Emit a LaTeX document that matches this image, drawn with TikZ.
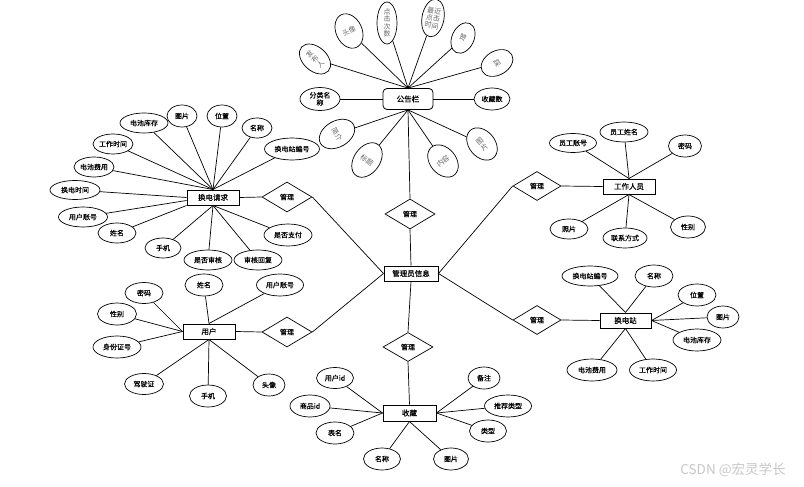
\documentclass[tikz,border=0pt]{standalone}
\usepackage{fontspec}
\newfontfamily\cjk{Noto Sans CJK SC}[FakeBold=0.35]
\newfontfamily\cjkl{Noto Sans CJK SC}
\usetikzlibrary{shapes.geometric}
\begin{document}
\begin{tikzpicture}[x=1pt,y=-1pt,
  attr/.style={ellipse,draw,line width=0.7pt,inner sep=0pt,font=\cjk\fontsize{7}{7.5}\selectfont,align=center},
  gattr/.style={attr,text=black!60,font=\cjkl\fontsize{7}{7.5}\selectfont},
  ent/.style={rectangle,draw,line width=1pt,inner sep=0pt,minimum width=52pt,minimum height=15pt,font=\cjk\fontsize{7.5}{8}\selectfont},
  rel/.style={diamond,draw,line width=0.7pt,inner sep=0pt,minimum width=50pt,minimum height=30pt,font=\cjk\fontsize{7}{8}\selectfont},
  link/.style={line width=0.7pt},
  sz/.style 2 args={minimum width=#1pt,minimum height=#2pt}
]
\useasboundingbox (0,0) rectangle (804,487);

% entities
\node[ent,rounded corners=4pt,sz={50}{21},line width=0.8pt] (gg) at (408,99) {公告栏};
\node[ent,minimum width=54pt] (adm) at (411,273.5) {管理员信息};
\node[ent] (hr) at (213,197.5) {换电请求};
\node[ent] (yh) at (209,331.5) {用户};
\node[ent] (gz) at (629,186.5) {工作人员};
\node[ent,minimum width=51pt] (hz) at (625.5,320.5) {换电站};
\node[ent,sz={53}{16}] (sc) at (409.5,413) {收藏};

% relations
\node[rel] (r1) at (410,214) {管理};
\node[rel] (r2) at (287,197) {管理};
\node[rel] (r3) at (287,332) {管理};
\node[rel,sz={48}{29}] (r4) at (537,186) {管理};
\node[rel,sz={48}{29}] (r5) at (537,320) {管理};
\node[rel,sz={50}{29}] (r6) at (408,347) {管理};

\draw[link] (gg.south) -- (r1.north);
\draw[link] (r1.south) -- (adm.north);
\draw[link] (adm.west) -- (r2.east);
\draw[link] (r2.west) -- (hr.east);
\draw[link] (adm.west) -- (r3.east);
\draw[link] (r3.west) -- (yh.east);
\draw[link] (adm.east) -- (r4.west);
\draw[link] (r4.east) -- (gz.west);
\draw[link] (adm.east) -- (r5.west);
\draw[link] (r5.east) -- (hz.west);
\draw[link] (adm.south) -- (r6.north);
\draw[link] (r6.south) -- (sc.north);

% announcement attributes
\node[gattr,sz={24}{36},rotate=48] (t1) at (315,59) {发\\布\\人};
\node[gattr,sz={26}{36},rotate=25] (t2) at (349,31) {头像};
\node[gattr,sz={20}{42}] (t3) at (387,23) {点\\击\\次\\数};
\node[gattr,sz={22}{38},rotate=-10] (t4) at (433,18) {最近\\点击\\时间};
\node[gattr,sz={22}{32},rotate=-25] (t5) at (463,38) {赞};
\node[gattr,sz={24}{34},rotate=-60] (t6) at (497,63) {踩};
\node[attr,sz={40}{23}] (t7) at (320,99) {分类名\\称};
\node[attr,sz={36}{22}] (t8) at (492,99) {收藏数};
\node[gattr,sz={26}{38},rotate=-60] (t9) at (337,134) {简介};
\node[gattr,sz={26}{38},rotate=-35] (t10) at (367,160) {标题};
\node[gattr,sz={26}{36},rotate=40] (t11) at (443,161) {内容};
\node[gattr,sz={26}{36},rotate=40] (t12) at (482,144) {图\\片};
\foreach \n in {t1,t2,t3,t4,t5,t6} \draw[link] (\n) -- (gg.north);
\foreach \n in {t9,t10,t11,t12} \draw[link] (\n) -- (gg.south);
\draw[link] (t7) -- (gg.west);
\draw[link] (t8) -- (gg.east);

% 换电请求 attributes
\node[attr,sz={48}{20}] (h1) at (144,123) {电池库存};
\node[attr,sz={30}{22}] (h2) at (182,116) {图片};
\node[attr,sz={30}{22}] (h3) at (222,116) {位置};
\node[attr,sz={30}{20}] (h4) at (257,128) {名称};
\node[attr,sz={55}{22}] (h5) at (292,149) {换电站编号};
\node[attr,sz={40}{20}] (h6) at (113,144) {工作时间};
\node[attr,sz={40}{20}] (h7) at (94,167) {电池费用};
\node[attr,sz={50}{19}] (h8) at (75,190) {换电时间};
\node[attr,sz={49}{20}] (h9) at (83,217) {用户账号};
\node[attr,sz={38}{20}] (h10) at (117,233) {姓名};
\node[attr,sz={36}{20}] (h11) at (163,248) {手机};
\node[attr,sz={48}{20}] (h12) at (208,260) {是否审核};
\node[attr,sz={48}{20}] (h13) at (258,260) {审核回复};
\node[attr,sz={48}{22}] (h14) at (288,235) {是否支付};
\foreach \n in {h1,h2,h3,h4,h5,h6,h7} \draw[link] (\n) -- (hr.north);
\draw[link] (h8) -- (hr.west);
\draw[link] (h9) -- ([yshift=-3pt]hr.west);
\draw[link] (h10) -- (hr.south west);
\foreach \n in {h11,h12,h13,h14} \draw[link] (\n) -- (hr.south);

% 用户 attributes
\node[attr,sz={38}{21}] (u1) at (144,293) {密码};
\node[attr,sz={38}{22}] (u2) at (204,285) {姓名};
\node[attr,sz={47}{22}] (u3) at (280,285) {用户账号};
\node[attr,sz={39}{22}] (u4) at (117,314) {性别};
\node[attr,sz={48}{22}] (u5) at (117,347) {身份证号};
\node[attr,sz={39}{21}] (u6) at (144,384) {驾驶证};
\node[attr,sz={37}{22}] (u7) at (208,396) {手机};
\node[attr,sz={32}{22}] (u8) at (269,385) {头像};
\foreach \n in {u1,u4,u5} \draw[link] (\n) -- (yh.west);
\foreach \n in {u2,u3} \draw[link] (\n) -- (yh.north);
\foreach \n in {u6,u7,u8} \draw[link] (\n) -- (yh.south);

% 工作人员 attributes
\node[attr,sz={47}{19}] (g1) at (573,143) {员工账号};
\node[attr,sz={48}{20}] (g2) at (624,132) {员工姓名};
\node[attr,sz={33}{22}] (g3) at (685,146) {密码};
\node[attr,sz={38}{20}] (g4) at (569,229) {照片};
\node[attr,sz={44}{20}] (g5) at (625,238) {联系方式};
\node[attr,sz={35}{22}] (g6) at (688,227) {性别};
\foreach \n in {g1,g2,g3} \draw[link] (\n) -- (gz.north);
\foreach \n in {g4,g5,g6} \draw[link] (\n) -- (gz.south);

% 换电站 attributes
\node[attr,sz={56}{20}] (z1) at (590,276) {换电站编号};
\node[attr,sz={38}{22}] (z2) at (654,276) {名称};
\node[attr,sz={38}{22}] (z3) at (697,295) {位置};
\node[attr,sz={32}{22}] (z4) at (723,317) {图片};
\node[attr,sz={48}{22}] (z5) at (697,340) {电池库存};
\node[attr,sz={50}{22}] (z6) at (592,370) {电池费用};
\node[attr,sz={47}{22}] (z7) at (653,370) {工作时间};
\foreach \n in {z1,z2} \draw[link] (\n) -- (hz.north);
\foreach \n in {z3,z4,z5} \draw[link] (\n) -- (hz.east);
\foreach \n in {z6,z7} \draw[link] (\n) -- (hz.south);

% 收藏 attributes
\node[attr,sz={37}{21}] (s1) at (335,378) {用户id};
\node[attr,sz={40}{22}] (s2) at (310,406) {商品id};
\node[attr,sz={38}{22}] (s3) at (335,433) {表名};
\node[attr,sz={37}{22}] (s4) at (382,459) {名称};
\node[attr,sz={35}{22}] (s5) at (451,459) {图片};
\node[attr,sz={32}{22}] (s6) at (484,378) {备注};
\node[attr,sz={47}{22}] (s7) at (508,406) {推荐类型};
\node[attr,sz={37}{22}] (s8) at (488,431) {类型};
\foreach \n in {s1,s2,s3} \draw[link] (\n) -- (sc.west);
\foreach \n in {s4,s5} \draw[link] (\n) -- (sc.south);
\foreach \n in {s6,s7,s8} \draw[link] (\n) -- (sc.east);

% watermark
\node[font=\cjkl\fontsize{13.5}{13.5}\selectfont,text=black!22,inner sep=0pt] (wm) at (733,470) {CSDN @宏灵学长};
\end{tikzpicture}
\end{document}
